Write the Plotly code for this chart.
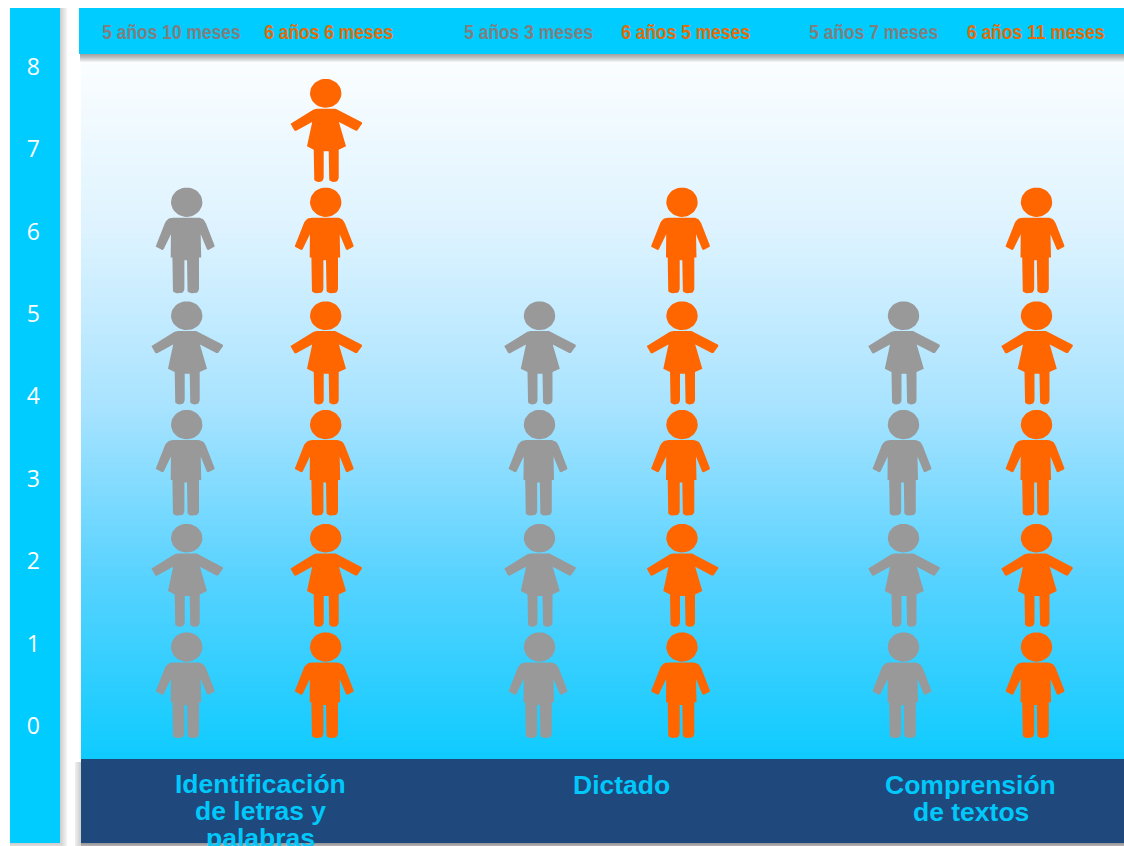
import numpy as np
import plotly.graph_objects as go

# ---------- data ----------
categories = [["Identificación", "de letras y", "palabras"], ["Dictado"], ["Comprensión", "de textos"]]
grey_labels = ["5 años 10 meses", "5 años 3 meses", "5 años 7 meses"]
orange_labels = ["6 años 6 meses", "6 años 5 meses", "6 años 11 meses"]
grey_counts = [5, 4, 4]
orange_counts = [6, 5, 5]
y_ticks = [0, 1, 2, 3, 4, 5, 6, 7, 8]

# ---------- layout (page pixels) ----------
W, H = 1124, 846
PLOT_L, PLOT_T, PLOT_B = 81, 55, 759
Y0_PX, PX_PER_UNIT = 726.0, 82.4
GREY_X = [186.7, 539.5, 903.5]
ORANGE_X = [325.7, 682.0, 1036.5]
GREY_LABEL_X = [171, 528.5, 873]
ORANGE_LABEL_X = [328.5, 685.5, 1036]
CAT_X = [260.5, 621, 970.5]
CAT_Y = [[784, 811, 838], [785], [785, 812]]
FOOT_START = (Y0_PX - 738) / PX_PER_UNIT
ROW_STEP = 111.2 / PX_PER_UNIT

GREY, ORANGE = "#999999", "#FF6600"
CYAN, NAVY = "#00CCFF", "#1F497D"


def px_x(v):
    return (v - PLOT_L) / (W - PLOT_L)


def px_y(v):
    return (PLOT_B - v) / (PLOT_B - PLOT_T)


# glyph outlines: (dx, up, corner radius) in pixels from head centre / feet
BOY = [(-19.5, 75.5, 6), (-31.6, 47, 1.5), (-23.6, 42.8, 1.5), (-15.8, 59, 0), (-16, 35.7, 0),
       (-14.3, 35.7, 0), (-14.3, 0, 5), (-2.3, 0, 5), (-2.3, 33, 0), (0.3, 33, 0), (0.3, 0, 5), (12.3, 0, 5),
       (12.3, 35.7, 0), (14.5, 35.7, 0), (14, 59, 0), (20.7, 42.8, 1.5), (28.3, 46.5, 1.5), (17, 75.5, 6)]
GIRL = [(-10.8, 73.3, 2), (-35.6, 58.8, 1.5), (-30.8, 50.5, 1.5), (-13.5, 60, 0), (-18.7, 35.7, 0),
        (-12, 32.3, 0), (-12, 0, 5), (-2, 0, 5), (-2, 30.7, 0), (3, 30.7, 0), (3, 0, 5), (13, 0, 5),
        (13, 32.3, 0), (20.3, 35.7, 0), (13.2, 60, 0), (31, 50.7, 1.5), (37, 59.2, 1.5), (11.3, 73.3, 2)]
HEADS = {"boy": (91.0, 15.7, 14.7), "girl": (88.7, 15.7, 14.4)}


def rounded(points):
    out = []
    n = len(points)
    for i, (x, y, r) in enumerate(points):
        if r == 0:
            out.append((x, y))
            continue
        px, py, _ = points[i - 1]
        nx, ny, _ = points[(i + 1) % n]
        a = np.array([px - x, py - y], float)
        b = np.array([nx - x, ny - y], float)
        a = a / np.linalg.norm(a) * r
        b = b / np.linalg.norm(b) * r
        for t in np.linspace(0, 1, 7):
            p = (1 - t) ** 2 * a + t ** 2 * b
            out.append((x + p[0], y + p[1]))
    out.append(out[0])
    return out


def person_xy(cx, row):
    kind = "boy" if row % 2 == 0 else "girl"
    foot = FOOT_START + row * ROW_STEP
    xs, ys = [], []
    for dx, up in rounded(BOY if kind == "boy" else GIRL):
        xs.append(cx + dx)
        ys.append(foot + up / PX_PER_UNIT)
    xs.append(None)
    ys.append(None)
    hc, rx, ry = HEADS[kind]
    for a in np.linspace(0, 2 * np.pi, 41):
        xs.append(cx + rx * np.cos(a))
        ys.append(foot + (hc + ry * np.sin(a)) / PX_PER_UNIT)
    xs.append(None)
    ys.append(None)
    return xs, ys


fig = go.Figure()

# gradient background
ymin = (Y0_PX - PLOT_B) / PX_PER_UNIT
ymax = (Y0_PX - PLOT_T) / PX_PER_UNIT
grad_y = np.linspace(ymin, ymax, 352)
fig.add_trace(go.Heatmap(x=[PLOT_L, W], y=grad_y, z=[[v, v] for v in np.linspace(0, 1, 352)],
                         colorscale=[[0, "#0ECBFF"], [0.25, "#55D2FF"], [0.5, "#A8E3FF"],
                                     [0.75, "#DDF3FF"], [1, "#FCFEFF"]],
                         showscale=False, hoverinfo="skip", zmin=0, zmax=1))


def add_columns(xpos, counts, labels, color):
    for cx, count, label in zip(xpos, counts, labels):
        xs, ys = [], []
        for row in range(count):
            a, b = person_xy(cx, row)
            xs += a
            ys += b
        fig.add_trace(go.Scatter(x=xs, y=ys, mode="lines", fill="toself", fillcolor=color,
                                 line=dict(width=0, color=color), name=label, hoverinfo="name",
                                 showlegend=False))


add_columns(GREY_X, grey_counts, grey_labels, GREY)
add_columns(ORANGE_X, orange_counts, orange_labels, ORANGE)

shapes = []


def rect(x0, y0, x1, y1, color, layer="below"):
    shapes.append(dict(type="rect", xref="paper", yref="paper", x0=px_x(x0), x1=px_x(x1),
                       y0=px_y(y1), y1=px_y(y0), fillcolor=color, line=dict(width=0), layer=layer))


# soft drop shadows
for d in range(1, 9):
    rect(10, 8, 60 + min(d, 7), 843 + min(d, 4), "rgba(0,0,0,0.022)")
    rect(81 - min(d, 6), 762, 81, 843 + min(d, 3), "rgba(0,0,0,0.025)")
    rect(81, 843, W, 843 + min(d, 3), "rgba(0,0,0,0.06)", layer="above")
    rect(80, 12, W, 54 + d, "rgba(0,0,0,0.05)", layer="above")
rect(10, 8, 60, 843, CYAN)
rect(79, 8, W, 54, CYAN, layer="above")
rect(81, 759, W, 843, NAVY, layer="above")

annotations = []


def label(x, y, text, size, color, family):
    annotations.append(dict(xref="paper", yref="paper", x=px_x(x), y=px_y(y), text=text, showarrow=False,
                            xanchor="center", yanchor="middle",
                            font=dict(size=size, color=color, family=family, weight="bold"),
                            borderpad=0, align="center"))


for x, t in zip(GREY_LABEL_X, grey_labels):
    label(x, 32, t, 21, "#7F7F7F", "Liberation Sans")
for x, t in zip(ORANGE_LABEL_X, orange_labels):
    label(x, 32, t, 21, "#E36C0A", "Liberation Sans")
for x, lines, ys in zip(CAT_X, categories, CAT_Y):
    for t, y in zip(lines, ys):
        label(x, y, t, 26.5, "#00C8FA", "Liberation Sans")

fig.update_layout(
    width=W, height=H, margin=dict(l=PLOT_L, r=0, t=PLOT_T, b=H - PLOT_B, pad=0),
    paper_bgcolor="white", plot_bgcolor="white", showlegend=False,
    shapes=shapes, annotations=annotations,
    xaxis=dict(range=[PLOT_L, W], visible=False, fixedrange=True),
    yaxis=dict(range=[ymin, ymax], tickmode="array", tickvals=y_ticks, ticktext=[str(v) for v in y_ticks],
               showgrid=False, zeroline=False, showline=False, ticks="", ticklabelstandoff=40,
               tickfont=dict(family="Open Sans", size=23, color="white"), fixedrange=True),
)

# condense the age labels (the original face is a narrow bold; none is installed)
POST = """
document.body.style.margin='0';
document.documentElement.style.overflow='hidden';
document.querySelectorAll('.annotation-text').forEach(function(t){
  if (t.textContent.indexOf('años') >= 0) {
    var w = t.getComputedTextLength();
    t.setAttribute('lengthAdjust', 'spacingAndGlyphs');
    t.setAttribute('textLength', (w * 0.83).toFixed(1));
  }
});
"""
fig.write_html("out.html", config={"displayModeBar": False}, post_script=POST)
